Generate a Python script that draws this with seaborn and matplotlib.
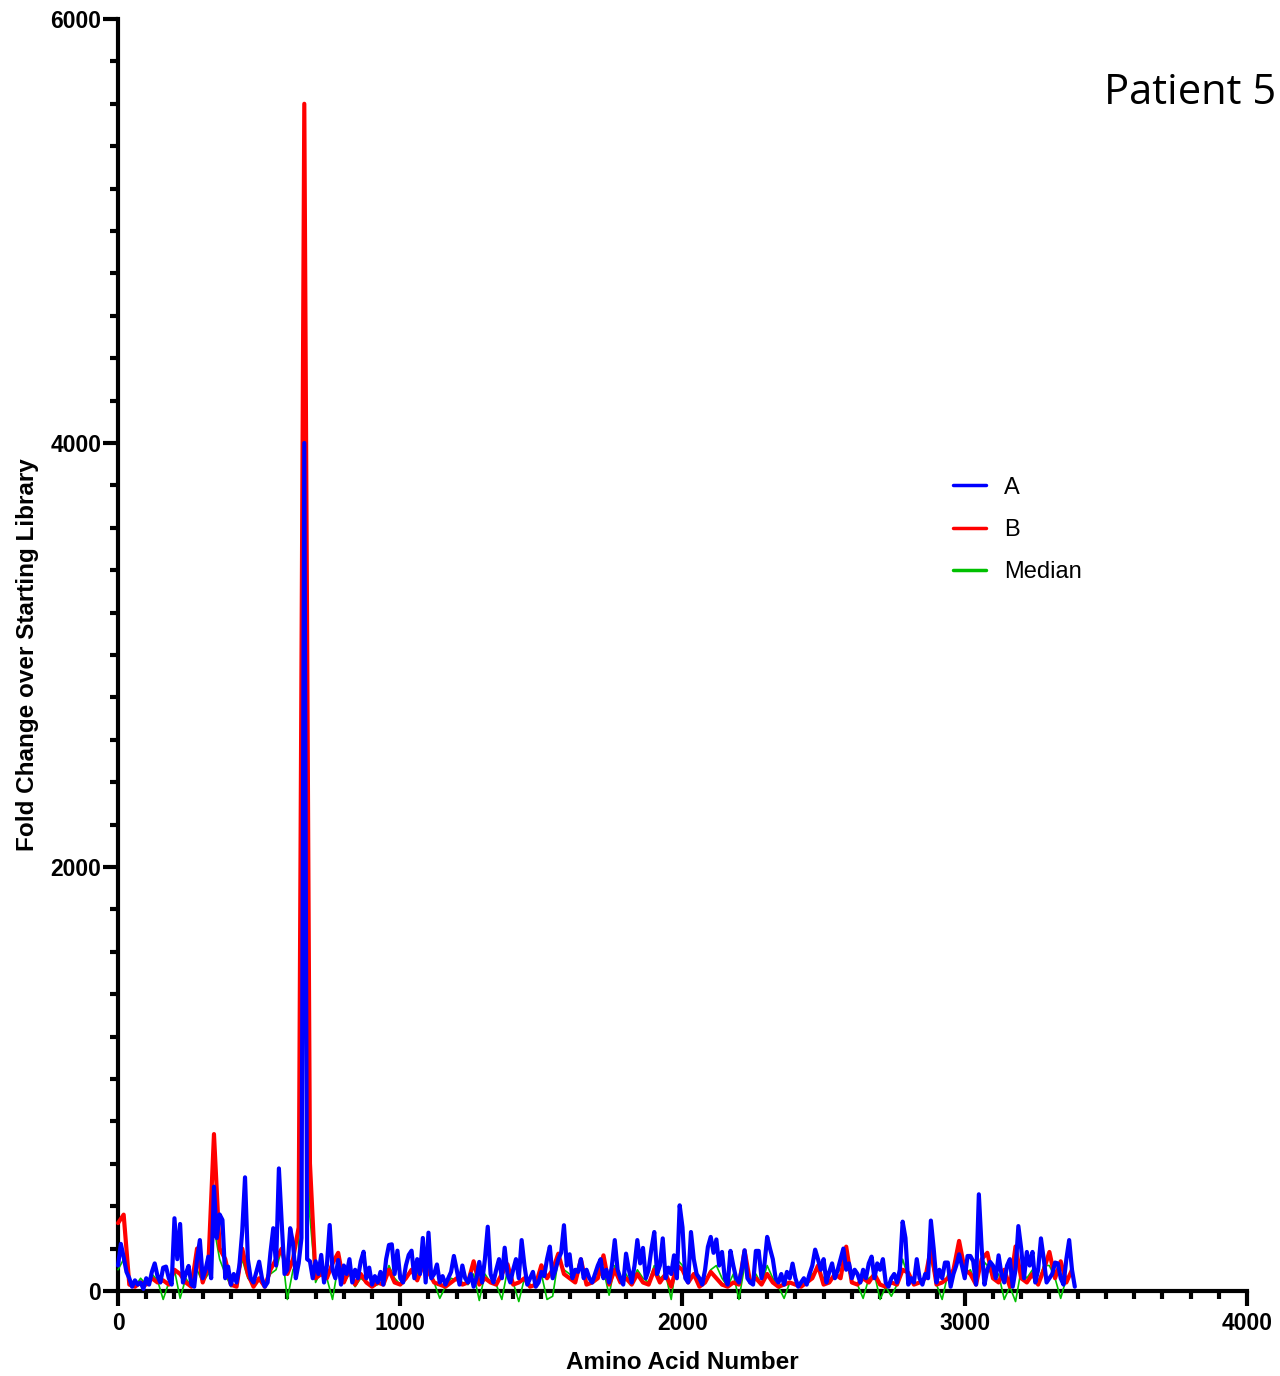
import numpy as np
import pandas as pd
import matplotlib
matplotlib.use('Agg')
import matplotlib.pyplot as plt
import seaborn as sns
from matplotlib.ticker import MultipleLocator

# Amino acid positions (A sampled every 10 aa, B and Median every 20 aa)
aa_a = np.arange(0, 3400, 10)
aa_b = np.arange(0, 3400, 20)
aa_med = np.arange(0, 3400, 20)

# Fold change, replicate A
a_vals = [
    120, 222, 160, 90, 60, 20, 50, 30, 40, 10, 60, 30, 90, 130, 70, 40, 110, 115, 60, 30,
    343, 150, 316, 40, 80, 118, 30, 20, 150, 240, 60, 100, 162, 60, 492, 250, 361, 335, 60, 115,
    30, 80, 40, 120, 280, 536, 150, 60, 40, 90, 138, 60, 20, 40, 180, 296, 120, 578, 320, 80,
    100, 296, 225, 60, 130, 250, 4000, 150, 140, 60, 140, 80, 170, 40, 120, 311, 100, 60, 146, 30,
    120, 80, 150, 40, 100, 60, 140, 185, 60, 110, 30, 70, 40, 90, 30, 150, 217, 220, 80, 190,
    60, 40, 120, 170, 190, 60, 150, 80, 250, 40, 275, 60, 80, 125, 40, 70, 30, 60, 90, 165,
    100, 30, 120, 60, 40, 80, 20, 60, 137, 40, 150, 303, 80, 40, 100, 150, 60, 204, 80, 40,
    100, 150, 60, 240, 120, 30, 60, 90, 20, 40, 90, 70, 150, 209, 60, 100, 150, 180, 310, 120,
    173, 60, 100, 90, 150, 60, 100, 60, 40, 80, 120, 150, 60, 100, 40, 120, 240, 100, 60, 30,
    176, 100, 40, 120, 240, 130, 203, 60, 100, 200, 278, 80, 120, 248, 60, 110, 80, 168, 60, 404,
    300, 60, 40, 278, 150, 80, 60, 30, 100, 208, 255, 180, 243, 120, 184, 60, 30, 189, 120, 60,
    40, 100, 192, 60, 40, 30, 189, 189, 60, 120, 255, 200, 150, 60, 40, 80, 30, 90, 60, 129,
    60, 20, 40, 60, 30, 80, 120, 195, 150, 100, 150, 40, 90, 130, 60, 100, 150, 200, 100, 130,
    60, 100, 80, 40, 100, 60, 130, 162, 60, 130, 100, 150, 40, 20, 60, 80, 40, 100, 327, 250,
    30, 60, 40, 150, 60, 30, 80, 60, 332, 200, 40, 100, 60, 134, 134, 20, 80, 120, 173, 120,
    60, 165, 165, 140, 30, 456, 200, 30, 100, 137, 120, 60, 168, 80, 40, 120, 150, 20, 100, 306,
    200, 60, 184, 120, 184, 40, 100, 248, 150, 40, 60, 80, 134, 130, 60, 30, 150, 240, 100, 20,
]

# Fold change, replicate B
b_vals = [
    320, 360, 30, 20, 40, 30, 60, 40, 50, 30,
    100, 80, 40, 20, 200, 40, 120, 740, 200, 150,
    30, 20, 200, 80, 20, 60, 20, 100, 150, 200,
    80, 150, 300, 5600, 602, 60, 80, 60, 130, 180,
    40, 100, 30, 80, 40, 20, 40, 30, 100, 40,
    30, 60, 100, 50, 120, 90, 40, 30, 20, 40,
    60, 30, 40, 140, 30, 60, 40, 30, 80, 126,
    30, 40, 60, 20, 30, 121, 60, 100, 176, 80,
    60, 40, 149, 30, 40, 60, 168, 30, 100, 40,
    60, 30, 80, 40, 30, 100, 40, 80, 20, 120,
    100, 40, 80, 20, 40, 90, 60, 30, 20, 40,
    30, 190, 40, 60, 30, 80, 40, 20, 30, 40,
    30, 20, 40, 60, 120, 30, 40, 80, 60, 209,
    40, 30, 60, 40, 80, 30, 20, 40, 30, 100,
    86, 30, 40, 60, 200, 30, 40, 60, 100, 236,
    100, 80, 30, 150, 180, 60, 40, 100, 20, 210,
    60, 40, 80, 30, 100, 184, 60, 140, 40, 100,
]

# Median of A and B
med_vals = [
    100, 150, 40, 20, 60, 30, 80, 50, -40, 40,
    100, -35, 60, 20, 100, 40, 80, 300, 150, 80,
    20, 30, 150, 60, 30, 50, 20, 80, 100, 200,
    -40, 100, 150, 4800, 350, 40, 100, 60, -40, 120,
    40, 80, 20, 60, 40, 20, 30, 40, 120, 60,
    30, 60, 100, 80, 150, 100, 40, -35, 20, 60,
    50, 40, 30, 80, -45, 80, 40, 30, -40, 100,
    40, -50, 60, 30, 20, 80, -40, -25, 150, 100,
    80, 40, 120, 30, 50, 60, 100, -20, 120, 40,
    80, 30, 100, 60, 40, 120, 60, 80, -40, 150,
    120, 60, 80, 20, 40, 100, 120, 60, 20, 80,
    -40, 120, 40, 80, 30, 120, 60, 20, -35, 40,
    30, 20, 40, 80, 100, 60, 40, 80, 100, 150,
    40, 30, -35, 60, 80, -40, 20, -25, 30, 150,
    60, 30, 40, 60, 150, 30, -40, 80, 100, 180,
    80, 100, 30, 150, 120, 60, 80, -40, 20, -50,
    100, 60, 100, 40, 120, 120, 60, -35, 60, 80,
]

df_a = pd.DataFrame({'aa': aa_a, 'fc': a_vals})
df_b = pd.DataFrame({'aa': aa_b, 'fc': b_vals})
df_m = pd.DataFrame({'aa': aa_med, 'fc': med_vals})

sns.set_style('ticks')
plt.rcParams['font.family'] = ['Liberation Sans', 'DejaVu Sans']
plt.rcParams['text.color'] = 'black'
plt.rcParams['axes.labelcolor'] = 'black'
plt.rcParams['xtick.color'] = 'black'
plt.rcParams['ytick.color'] = 'black'

fig = plt.figure(figsize=(12.8, 13.76), dpi=100)
ax = fig.add_axes([0.0922, 0.0618, 0.8820, 0.9244])

sns.lineplot(data=df_m, x='aa', y='fc', color='#00c000', linewidth=1.2,
             estimator=None, label='Median', ax=ax)
sns.lineplot(data=df_b, x='aa', y='fc', color='#ff0000', linewidth=3.0,
             estimator=None, label='B', ax=ax)
sns.lineplot(data=df_a, x='aa', y='fc', color='#0000ff', linewidth=3.0,
             estimator=None, label='A', ax=ax)
for ln in ax.lines:
    ln.set_clip_on(False)

ax.set_xlim(0, 4000)
ax.set_ylim(0, 6000)
ax.xaxis.set_major_locator(MultipleLocator(1000))
ax.xaxis.set_minor_locator(MultipleLocator(100))
ax.yaxis.set_major_locator(MultipleLocator(2000))
ax.yaxis.set_minor_locator(MultipleLocator(200))

for s in ['top', 'right']:
    ax.spines[s].set_visible(False)
for s in ['left', 'bottom']:
    ax.spines[s].set_linewidth(3)
    ax.spines[s].set_color('black')
    ax.spines[s].set_zorder(1)

ax.tick_params(which='major', length=11, width=3, labelsize=16.5, pad=1)
ax.tick_params(axis='x', which='major', pad=4)
ax.tick_params(which='minor', length=6, width=3)
for lab in ax.get_xticklabels() + ax.get_yticklabels():
    lab.set_fontweight('bold')

ax.set_xlabel('Amino Acid Number', fontsize=17.5, fontweight='bold', labelpad=12)
ax.set_ylabel('Fold Change over Starting Library', fontsize=17.5, fontweight='bold', labelpad=8)

handles, labels = ax.get_legend_handles_labels()
order = [labels.index('A'), labels.index('B'), labels.index('Median')]
leg = ax.legend([handles[i] for i in order], [labels[i] for i in order],
                loc='upper left', bbox_to_anchor=(0.728, 0.669), bbox_transform=fig.transFigure,
                frameon=False, fontsize=17, handlelength=1.4, handletextpad=0.75, labelspacing=0.85)
for h in leg.legend_handles:
    h.set_linewidth(2.5)

fig.text(0.997, 0.9245, 'Patient 5', ha='right', va='baseline', fontsize=30,
         color='black', family=['Open Sans', 'DejaVu Sans'])

fig.savefig('out.png', dpi=100)
plt.close(fig)
